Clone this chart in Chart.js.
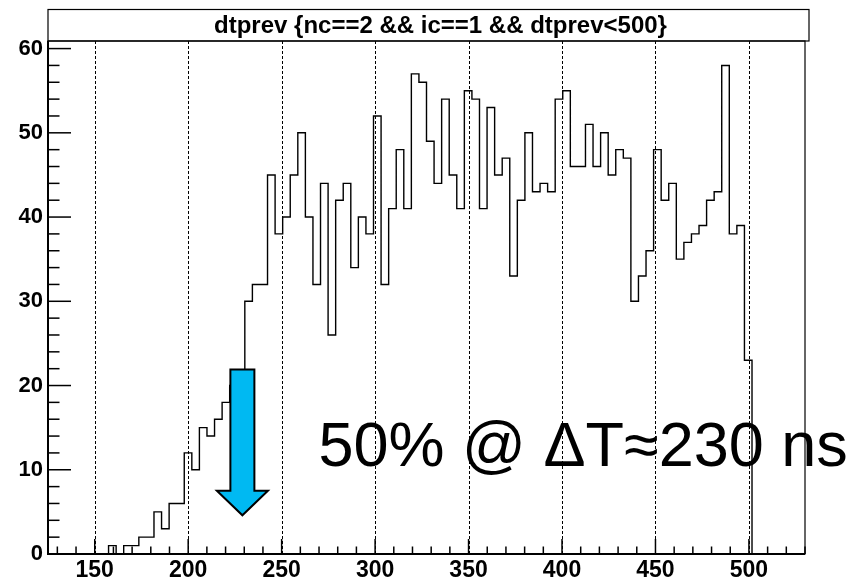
<!DOCTYPE html>
<html>
<head>
<meta charset="utf-8">
<title>dtprev</title>
<script src="https://cdn.jsdelivr.net/npm/chart.js@4.4.1/dist/chart.umd.min.js"></script>
<style>
  html, body { margin: 0; padding: 0; background: #fff; }
  canvas { display: block; }
</style>
</head>
<body>
<canvas id="dtChart" width="854" height="580"></canvas>
<script>
// histogram: 100 bins from 125 to 530
const histLow = 125;
const histHigh = 530;
const binWidth = 4.05;

// bin contents, 10 per row
const counts = [
   0,  0,  0,  0,  0,  0,  0,  0,  1,  0,
   1,  1,  2,  2,  5,  3,  6,  6, 12, 10,
  15, 14, 16, 18, 20, 21, 30, 32, 32, 45,
  38, 40, 45, 50, 40, 32, 44, 26, 42, 44,
  34, 40, 38, 52, 32, 41, 48, 41, 57, 56,
  49, 44, 54, 45, 41, 55, 54, 41, 53, 45,
  47, 33, 42, 50, 43, 44, 43, 54, 55, 46,
  46, 51, 46, 50, 45, 48, 47, 30, 33, 36,
  48, 42, 44, 35, 37, 38, 39, 42, 43, 58,
  38, 39, 23,  0,  0,  0,  0,  0,  0,  0
];

const xTicks = [150, 200, 250, 300, 350, 400, 450, 500];
const yTicks = [0, 10, 20, 30, 40, 50, 60];

const titleText = 'dtprev {nc==2 && ic==1 && dtprev<500}';
const noteText = '50% @ \u0394T\u2248230 ns';

// left edge of every bin, plus closing point at the upper edge
let points = counts.map((c, i) => ({ x: histLow + i * binWidth, y: c }));
points.push({ x: histLow + counts.length * binWidth, y: 0 });

const yMax = Math.max(...counts) * 1.05;

// ROOT-like frame: inside ticks, dotted grid, title box, arrow + note
const rootFrame = {
  id: 'rootFrame',
  beforeDraw(chart) {
    let ctx = chart.ctx;
    let a = chart.chartArea;
    ctx.save();
    ctx.fillStyle = '#fff';
    ctx.fillRect(0, 0, chart.width, chart.height);

    // title box sitting on the frame
    ctx.strokeStyle = '#000';
    ctx.lineWidth = 1.2;
    ctx.strokeRect(a.left, 9.5, a.right + 4 - a.left, a.top - 9.5);
    ctx.fillStyle = '#000';
    ctx.font = 'bold 24px "Liberation Sans", Arial, sans-serif';
    ctx.textAlign = 'center';
    ctx.textBaseline = 'middle';
    ctx.fillText(titleText, (a.left + a.right) / 2 + 14, (9.5 + a.top) / 2 + 1);
    ctx.restore();
  },
  beforeDatasetsDraw(chart) {
    let ctx = chart.ctx;
    let a = chart.chartArea;
    let x = chart.scales.x;
    ctx.save();
    ctx.strokeStyle = '#000';
    ctx.lineWidth = 1;
    ctx.setLineDash([3, 2]);
    xTicks.forEach(v => {
      let px = Math.round(x.getPixelForValue(v)) + 0.5;
      ctx.beginPath();
      ctx.moveTo(px, a.top);
      ctx.lineTo(px, a.bottom);
      ctx.stroke();
    });
    ctx.restore();
  },
  afterDatasetsDraw(chart) {
    let ctx = chart.ctx;
    let a = chart.chartArea;
    let x = chart.scales.x;
    let y = chart.scales.y;
    ctx.save();
    ctx.strokeStyle = '#000';
    ctx.lineWidth = 1.5;

    // x ticks every 10, long at labels
    for (let v = 130; v <= histHigh; v += 10) {
      let px = x.getPixelForValue(v);
      let len = xTicks.includes(v) ? 15 : 7.5;
      ctx.beginPath();
      ctx.moveTo(px, a.bottom);
      ctx.lineTo(px, a.bottom - len);
      ctx.stroke();
    }
    // y ticks every 2, long at labels
    for (let v = 0; v <= 60; v += 2) {
      let py = y.getPixelForValue(v);
      let len = yTicks.includes(v) ? 23 : 11.5;
      ctx.beginPath();
      ctx.moveTo(a.left, py);
      ctx.lineTo(a.left + len, py);
      ctx.stroke();
    }

    // frame
    ctx.lineWidth = 1.2;
    ctx.strokeRect(a.left, a.top, a.right - a.left, a.bottom - a.top);
    ctx.lineWidth = 2;
    ctx.beginPath();
    ctx.moveTo(a.left, a.top);
    ctx.lineTo(a.left, a.bottom);
    ctx.lineTo(a.right, a.bottom);
    ctx.stroke();

    // down arrow at the half-height point
    let cx = x.getPixelForValue(229);
    let top = y.getPixelForValue(21.9);
    let neck = y.getPixelForValue(7.5);
    let tip = y.getPixelForValue(4.6);
    let sw = 12, hw = 25.5;
    ctx.beginPath();
    ctx.moveTo(cx - sw, top);
    ctx.lineTo(cx + sw, top);
    ctx.lineTo(cx + sw, neck);
    ctx.lineTo(cx + hw, neck);
    ctx.lineTo(cx, tip);
    ctx.lineTo(cx - hw, neck);
    ctx.lineTo(cx - sw, neck);
    ctx.closePath();
    ctx.fillStyle = 'rgb(0, 185, 242)';
    ctx.fill();
    ctx.lineWidth = 2;
    ctx.lineJoin = 'miter';
    ctx.stroke();

    // note
    ctx.fillStyle = '#000';
    ctx.font = '63px "Liberation Sans", Arial, sans-serif';
    ctx.textBaseline = 'alphabetic';
    ctx.textAlign = 'left';
    ctx.fillText(noteText, x.getPixelForValue(269.7), y.getPixelForValue(10.4));
    ctx.restore();
  }
};

Chart.defaults.font.family = '"Liberation Sans", Arial, Helvetica, sans-serif';
Chart.defaults.color = '#000';

new Chart(document.getElementById('dtChart'), {
  type: 'line',
  data: {
    datasets: [{
      data: points,
      stepped: true,
      fill: false,
      borderColor: '#000',
      borderWidth: 1.4,
      pointRadius: 0,
      tension: 0
    }]
  },
  options: {
    responsive: false,
    animation: false,
    events: [],
    layout: { padding: { top: 41, right: 49, bottom: 0, left: 0 } },
    plugins: {
      legend: { display: false },
      tooltip: { enabled: false },
      title: { display: false }
    },
    scales: {
      x: {
        type: 'linear',
        min: histLow,
        max: histHigh,
        grid: { display: false, drawTicks: false },
        border: { display: false },
        afterBuildTicks: s => { s.ticks = xTicks.map(v => ({ value: v })); },
        afterFit: s => { s.height = 26; },
        ticks: {
          autoSkip: false,
          maxRotation: 0,
          padding: 3,
          color: '#000',
          font: { size: 23, weight: 'bold' }
        }
      },
      y: {
        type: 'linear',
        min: 0,
        max: yMax,
        grid: { display: false, drawTicks: false },
        border: { display: false },
        afterBuildTicks: s => { s.ticks = yTicks.map(v => ({ value: v })); },
        afterFit: s => { s.width = 48; },
        ticks: {
          padding: 5,
          color: '#000',
          font: { size: 22, weight: 'bold' }
        }
      }
    }
  },
  plugins: [rootFrame]
});
</script>
</body>
</html>
